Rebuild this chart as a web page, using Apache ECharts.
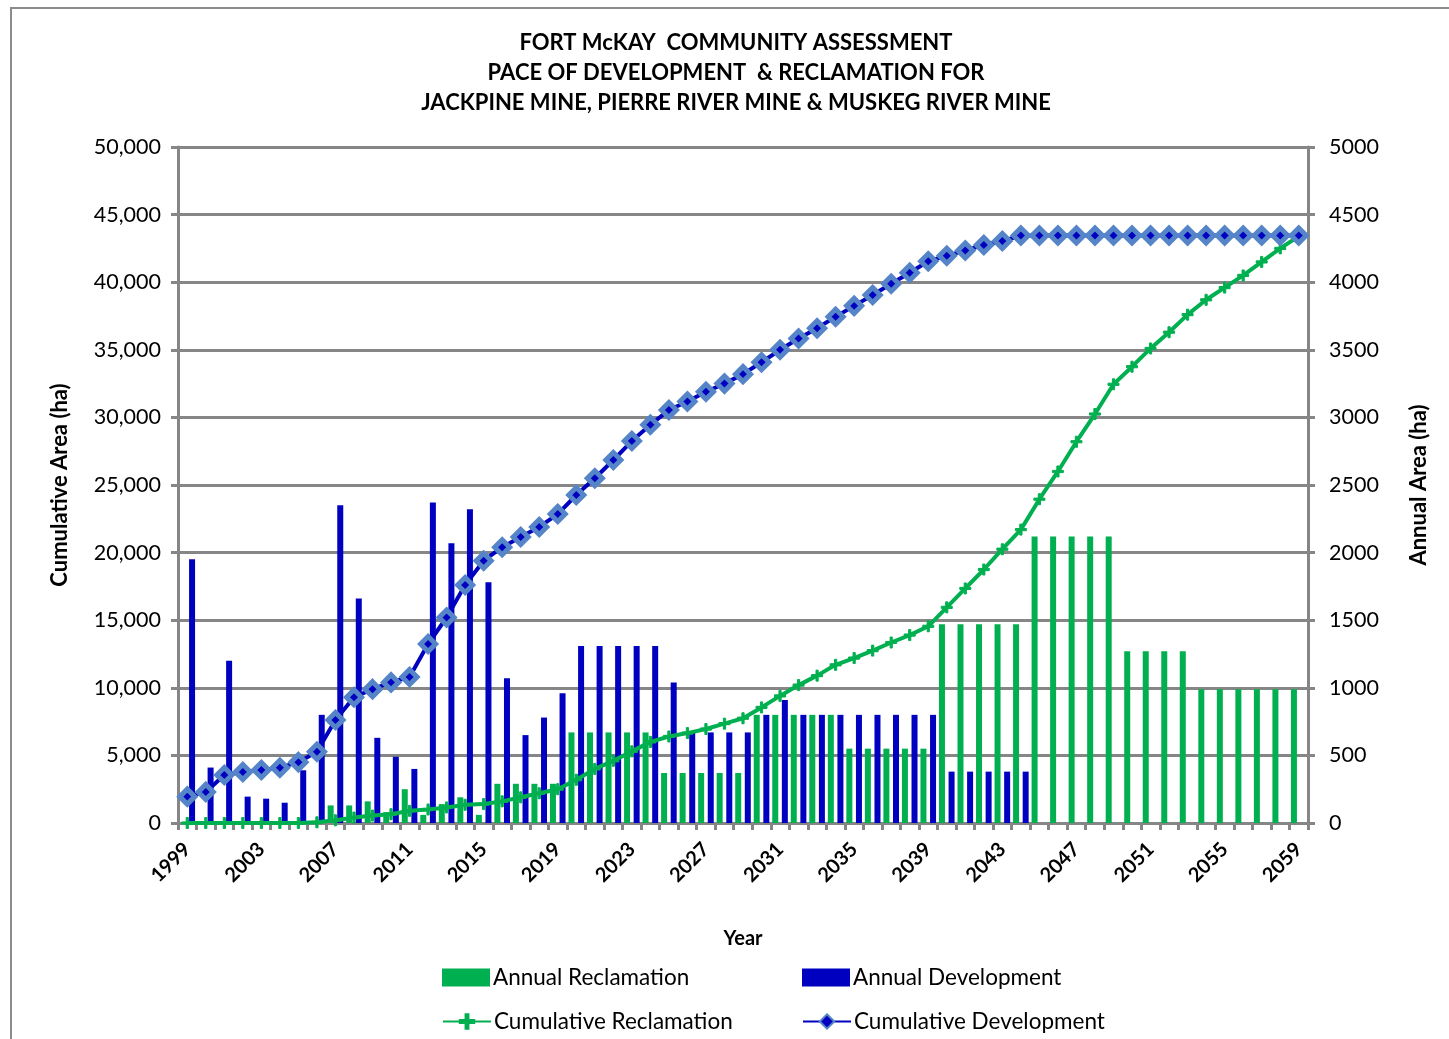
<!DOCTYPE html>
<html>
<head>
<meta charset="utf-8">
<script src="https://cdn.jsdelivr.net/npm/echarts@6/dist/echarts.min.js"></script>
<style>
html,body{margin:0;padding:0;background:#fff;overflow:hidden;}
#frame{position:absolute;left:10px;top:7px;width:1480px;height:1080px;border:2px solid #8c8c8c;box-sizing:border-box;}
#chart{position:absolute;left:0;top:0;width:1449px;height:1039px;}
</style>
</head>
<body>
<div id="frame"></div>
<div id="chart"></div>
<script>
const years = ["1999","2000","2001","2002","2003","2004","2005","2006","2007","2008","2009","2010","2011","2012","2013","2014","2015","2016","2017","2018","2019","2020","2021","2022","2023","2024","2025","2026","2027","2028","2029","2030","2031","2032","2033","2034","2035","2036","2037","2038","2039","2040","2041","2042","2043","2044","2045","2046","2047","2048","2049","2050","2051","2052","2053","2054","2055","2056","2057","2058","2059"];

const annualReclamation = [0,0,0,0,0,0,0,0,130,130,160,80,250,60,140,190,60,290,290,290,290,670,670,670,670,670,370,370,370,370,370,800,800,800,800,800,550,550,550,550,550,1470,1470,1470,1470,1470,2120,2120,2120,2120,2120,1270,1270,1270,1270,990,990,990,990,990,990];

const annualDevelopment = [1950,410,1200,195,180,150,390,800,2350,1660,630,490,400,2370,2070,2320,1780,1070,650,780,960,1310,1310,1310,1310,1310,1040,670,670,670,670,800,910,800,800,800,800,800,800,800,800,380,380,380,380,380,0,0,0,0,0,0,0,0,0,0,0,0,0,0,0];

const cumulativeReclamation = [0,0,0,0,0,0,0,50,200,400,550,650,900,1000,1150,1350,1400,1600,1900,2200,2500,3200,4000,4600,5300,6000,6400,6650,6950,7350,7750,8550,9400,10200,10900,11700,12200,12750,13350,13900,14550,15950,17350,18750,20250,21700,23950,26000,28200,30250,32450,33750,35100,36300,37600,38700,39600,40500,41500,42500,43400];

const cumulativeDevelopment = [1950,2300,3550,3770,3920,4090,4500,5270,7620,9300,9900,10400,10800,13240,15200,17600,19400,20400,21150,21900,22850,24260,25500,26850,28250,29450,30550,31180,31900,32500,33200,34080,35000,35830,36600,37450,38250,39050,39880,40700,41550,41950,42350,42750,43050,43450,43450,43450,43450,43450,43450,43450,43450,43450,43450,43450,43450,43450,43450,43450,43450];

const titleText = "FORT McKAY  COMMUNITY ASSESSMENT\nPACE OF DEVELOPMENT  & RECLAMATION FOR\nJACKPINE MINE, PIERRE RIVER MINE & MUSKEG RIVER MINE";

const GREEN = '#00b050', BLUE = '#0000c0', LIGHTBLUE = '#5585c8', GRID = '#868686';
const FONT = 'Lato';

function legendAt(item, left, top) {
  return {
    data: [item], left: left, top: top,
    itemWidth: 48, itemHeight: 18,
    textStyle: {fontFamily: FONT, fontSize: 22.5, color: '#000', padding: [0, 0, 0, -2]}
  };
}

const chart = echarts.init(document.getElementById('chart'), null, {renderer: 'canvas'});
chart.setOption({
  animation: false,
  backgroundColor: 'transparent',
  textStyle: {fontFamily: FONT, color: '#000'},
  title: {
    text: titleText,
    left: 731, top: 23, textAlign: 'center',
    textStyle: {fontFamily: FONT, fontWeight: 'bold', fontSize: 22, lineHeight: 30, color: '#000'}
  },
  grid: {left: 178, right: 141, top: 147, bottom: 216, containLabel: false},
  legend: [
    legendAt({name: 'Annual Reclamation', icon: 'rect'}, 437, 961),
    legendAt({name: 'Cumulative Reclamation'}, 437, 1005),
    legendAt({name: 'Annual Development', icon: 'rect'}, 797, 961),
    legendAt({name: 'Cumulative Development'}, 797, 1005)
  ],
  xAxis: {
    type: 'category', data: years, boundaryGap: true,
    name: 'Year', nameLocation: 'middle', nameGap: 106,
    nameTextStyle: {fontFamily: FONT, fontWeight: 'bold', fontSize: 20, color: '#000'},
    axisLine: {lineStyle: {color: GRID, width: 3}},
    axisTick: {show: true, interval: 0, length: 7, lineStyle: {color: GRID, width: 3}},
    axisLabel: {interval: 3, rotate: 45, margin: 23, fontFamily: FONT, fontWeight: 'bold', fontSize: 20, color: '#000'},
    splitLine: {show: false}
  },
  yAxis: [
    {
      type: 'value', min: 0, max: 50000, interval: 5000, position: 'left',
      name: 'Cumulative Area (ha)', nameLocation: 'middle', nameGap: 107, nameRotate: 90,
      nameTextStyle: {fontFamily: FONT, fontWeight: 'bold', fontSize: 22, color: '#000'},
      axisLine: {show: true, lineStyle: {color: GRID, width: 3}},
      axisTick: {show: true, length: 7, lineStyle: {color: GRID, width: 3}},
      axisLabel: {margin: 17, fontFamily: FONT, fontSize: 21.5, color: '#000',
        formatter: v => v.toLocaleString('en-US')},
      splitLine: {show: true, lineStyle: {color: GRID, width: 3}}
    },
    {
      type: 'value', min: 0, max: 5000, interval: 500, position: 'right',
      name: 'Annual Area (ha)', nameLocation: 'middle', nameGap: 100, nameRotate: 90,
      nameTextStyle: {fontFamily: FONT, fontWeight: 'bold', fontSize: 22, color: '#000'},
      axisLine: {show: true, lineStyle: {color: GRID, width: 3}},
      axisTick: {show: true, length: 7, lineStyle: {color: GRID, width: 3}},
      axisLabel: {margin: 21, fontFamily: FONT, fontSize: 21.5, color: '#000', formatter: v => String(v)},
      splitLine: {show: false}
    }
  ],
  series: [
    {
      name: 'Annual Reclamation', type: 'bar', yAxisIndex: 1, data: annualReclamation,
      barWidth: 6, barGap: '60%', itemStyle: {color: GREEN}, z: 2
    },
    {
      name: 'Annual Development', type: 'bar', yAxisIndex: 1, data: annualDevelopment,
      barWidth: 6, barGap: '60%', itemStyle: {color: BLUE}, z: 2
    },
    {
      name: 'Cumulative Reclamation', type: 'line', yAxisIndex: 0, data: cumulativeReclamation,
      lineStyle: {color: GREEN, width: 4}, itemStyle: {color: GREEN, borderColor: GREEN, borderWidth: 1},
      symbol: 'path://M4,0H6V4H10V6H6V10H4V6H0V4H4Z', symbolSize: 11, showAllSymbol: true, z: 4
    },
    {
      name: 'Cumulative Development', type: 'line', yAxisIndex: 0, data: cumulativeDevelopment,
      lineStyle: {color: BLUE, width: 4}, itemStyle: {color: BLUE, borderColor: LIGHTBLUE, borderWidth: 5},
      symbol: 'diamond', symbolSize: 15, showAllSymbol: true, z: 5
    }
  ]
});
</script>
</body>
</html>
